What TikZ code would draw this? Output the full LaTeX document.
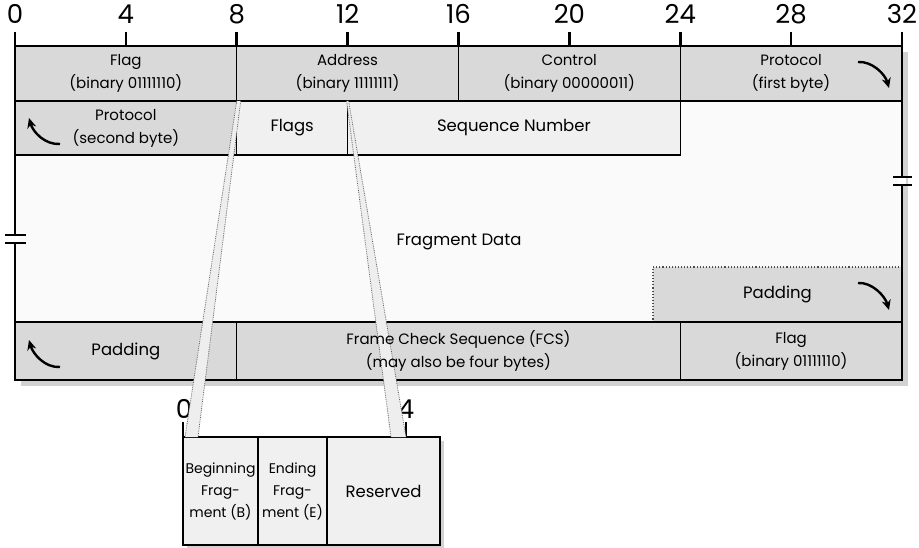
\documentclass[tikz,border=0pt]{standalone}
\usepackage{fontspec}
\setmainfont{Poppins}[Numbers=Monospaced]
\usetikzlibrary{positioning}
\usetikzlibrary{arrows.meta}

\definecolor{fieldgray}{HTML}{D9D9D9}
\definecolor{fieldlight}{HTML}{F0F0F0}
\definecolor{shadowgray}{HTML}{D2D2D2}
\definecolor{bandgray}{HTML}{EEEEEE}

\begin{document}
\begin{tikzpicture}[x=1pt, y=-1pt,
	frame/.style={line width=2.6pt},
	field/.style={draw, line width=1.1pt, fill=fieldgray, anchor=north west, inner sep=0pt, outer sep=0pt, align=center, font=\fontsize{15}{23}\selectfont},
	light/.style={fill=fieldlight},
	big/.style={font=\fontsize{16.5}{20}\selectfont},
	tiny/.style={font=\fontsize{14}{22}\selectfont},
	bitlabel/.style={font=\fontsize{26}{26}\selectfont, inner sep=0pt},
	bendarrow/.style={line width=2.4pt, -{Stealth[length=10pt, width=9pt]}},
	band/.style={draw=black!60, densely dotted, line width=0.8pt}
	]
	\useasboundingbox[fill=white] (0,0) rectangle (919,548);
	\coordinate (tl) at (15,46);
	\coordinate (br) at (902,380);
	\fill[shadowgray] ([shift={(6,6)}]tl) rectangle ([shift={(6,6)}]br);
	\fill[white!98!black] (tl) rectangle (br);

	\node[field, minimum width=221.7pt, minimum height=55pt] (flag1) at (tl) {Flag\\(binary 01111110)};
	\node[field, minimum width=221.7pt, minimum height=55pt, right=0pt of flag1] (addr) {Address\\(binary 11111111)};
	\node[field, minimum width=221.7pt, minimum height=55pt, right=0pt of addr] (ctrl) {Control\\(binary 00000011)};
	\node[field, minimum width=221.9pt, minimum height=55pt, right=0pt of ctrl] (proto1) {Protocol\\(first byte)};

	\node[field, minimum width=221.7pt, minimum height=54pt] (proto2) at (15,101) {Protocol\\(second byte)};
	\node[field, light, big, minimum width=110.9pt, minimum height=54pt, right=0pt of proto2] (flags) {Flags};
	\node[field, light, big, minimum width=332.6pt, minimum height=54pt, right=0pt of flags] (seq) {Sequence Number};

	\node[big] (data) at (459,242) {Fragment Data};
	\node[field, big, dotted, draw=black!70, minimum width=249pt, minimum height=55pt] (pad2) at (653,267) {Padding};

	\node[field, big, minimum width=221.7pt, minimum height=58pt] (pad1) at (15,322) {Padding};
	\node[field, minimum width=443.4pt, minimum height=58pt, right=0pt of pad1] (fcs) {};
	\node[field, minimum width=221.9pt, minimum height=58pt, right=0pt of fcs] (flag2) {Flag\\(binary 01111110)};

	\draw[frame] (tl) rectangle (br);

	\coordinate (brkL) at (15,239);
	\coordinate (brkR) at (902,181);
	\fill[white] ([shift={(-4,-3)}]brkL) rectangle ([shift={(4,3)}]brkL);
	\draw[frame] ([shift={(-10,-4)}]brkL) -- ([shift={(11,-4)}]brkL);
	\draw[frame] ([shift={(-10,4)}]brkL) -- ([shift={(11,4)}]brkL);
	\fill[white] ([shift={(-4,-3)}]brkR) rectangle ([shift={(4,3)}]brkR);
	\draw[frame] ([shift={(-9,-4)}]brkR) -- ([shift={(10,-4)}]brkR);
	\draw[frame] ([shift={(-9,4)}]brkR) -- ([shift={(10,4)}]brkR);

	\foreach \b in {0,4,...,32} {
		\draw[frame] ({15+\b*27.72},32) -- ({15+\b*27.72},46);
		\node[bitlabel] (bit\b) at ({15+\b*27.72},14) {\b};
	}

	\draw[bendarrow] ([shift={(-44,16)}]proto1.north east) .. controls +(14,-1) and +(-4,-14) .. ([shift={(-13,42)}]proto1.north east);
	\draw[bendarrow] ([shift={(-44,16)}]pad2.north east) .. controls +(14,-1) and +(-4,-14) .. ([shift={(-13,43)}]pad2.north east);
	\draw[bendarrow] ([shift={(45,43)}]proto2.north west) .. controls +(-15,1) and +(4,14) .. ([shift={(14,17)}]proto2.north west);
	\draw[bendarrow] ([shift={(45,45)}]pad1.north west) .. controls +(-15,1) and +(4,14) .. ([shift={(14,18)}]pad1.north west);

	\fill[shadowgray] (187,441) rectangle (444,549);
	\node[field, light, tiny, minimum width=75pt, minimum height=108pt] (fragb) at (183,437) {Beginning\\Frag-\\ment (B)};
	\node[field, light, tiny, minimum width=69pt, minimum height=108pt, right=0pt of fragb] (frage) {Ending\\Frag-\\ment (E)};
	\node[field, light, big, minimum width=113pt, minimum height=108pt, right=0pt of frage] (resv) {Reserved};
	\draw[frame] (fragb.north west) rectangle (resv.south east);

	\coordinate (sub0) at (fragb.north west);
	\coordinate (sub4) at (406,437);
	\draw[frame] (sub0) -- ++(0,-15);
	\draw[frame] (sub4) -- ++(0,-15);
	\node[bitlabel] (subbit0) at ([shift={(1,-28)}]sub0) {0};
	\node[bitlabel] (subbit4) at ([shift={(0,-28)}]sub4) {4};

	\fill[bandgray] (flags.north west) -- ([xshift=4pt]flags.north west) -- ([xshift=15pt]sub0) -- ([xshift=2pt]sub0) -- cycle;
	\draw[band] (flags.north west) -- ([xshift=2pt]sub0);
	\draw[band] ([xshift=4pt]flags.north west) -- ([xshift=15pt]sub0);
	\fill[bandgray] ([xshift=-1pt]flags.north east) -- ([xshift=1pt]flags.north east) -- (sub4) -- ([xshift=-15pt]sub4) -- cycle;
	\draw[band] ([xshift=-1pt]flags.north east) -- ([xshift=-15pt]sub4);
	\draw[band] ([xshift=1pt]flags.north east) -- (sub4);

	\node[align=center, font=\fontsize{15}{23}\selectfont] (fcstext) at (fcs) {Frame Check Sequence (FCS)\\(may also be four bytes)};
\end{tikzpicture}
\end{document}
